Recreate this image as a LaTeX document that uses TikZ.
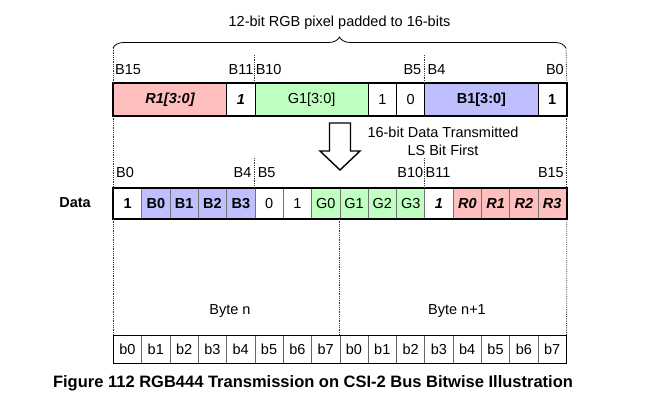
\documentclass[tikz,border=0pt]{standalone}
\usepackage{fontspec}
\setmainfont{Liberation Sans}
\usetikzlibrary{decorations.pathreplacing}
\definecolor{redf}{HTML}{FFBFBF}
\definecolor{greenf}{HTML}{BFFFBF}
\definecolor{bluef}{HTML}{BFBFFF}
\def\w{28.3125}
\tikzset{
  base/.style={font=\fontsize{14.5}{16}\selectfont},
  cellA/.style={base, draw=black, line width=0.8pt, minimum height=32pt, inner sep=0pt, anchor=north west},
  cellB/.style={base, draw=black!55, line width=0.8pt, minimum height=30pt, minimum width=\w pt, inner sep=0pt, anchor=north west},
  cellC/.style={base, draw=black!60, line width=0.6pt, minimum height=28pt, minimum width=\w pt, inner sep=0pt, anchor=north west},
  cWB/.style={fill=white, font=\fontsize{14.5}{16}\selectfont\bfseries},
  cBB/.style={fill=bluef, font=\fontsize{14.5}{16}\selectfont\bfseries},
  cWR/.style={fill=white},
  cGR/.style={fill=greenf},
  cWI/.style={fill=white, font=\fontsize{14.5}{16}\selectfont\bfseries\itshape},
  cRI/.style={fill=redf, font=\fontsize{14.5}{16}\selectfont\bfseries\itshape},
  outer/.style={draw=black, line width=1.8pt},
  guide/.style={draw=black!80, line width=0.8pt, densely dotted},
  lbl/.style={base, inner sep=0pt},
}
\begin{document}
\begin{tikzpicture}[x=1pt, y=-1pt]
\useasboundingbox (0,0) rectangle (654,402);

% title and brace
\node[lbl] (title) at (339.5,23) {12-bit RGB pixel padded to 16-bits};
\coordinate (brL) at (113,48);
\coordinate (brR) at (566,48);
\draw[line width=0.8pt, decoration={brace, amplitude=11pt}, decorate] (brL) -- (brR);

% top row
\node[cellA, cRI, minimum width=4*\w pt] (r1) at (113,83) {R1[3:0]};
\node[cellA, cWI, minimum width=\w pt] (p1) at ({113+4*\w},83) {1};
\node[cellA, cGR, minimum width=4*\w pt] (g1) at ({113+5*\w},83) {G1[3:0]};
\node[cellA, cWR, minimum width=\w pt] (p2) at ({113+9*\w},83) {1};
\node[cellA, cWR, minimum width=\w pt] (p3) at ({113+10*\w},83) {0};
\node[cellA, cBB, minimum width=4*\w pt] (b1) at ({113+11*\w},83) {B1[3:0]};
\node[cellA, cWB, minimum width=\w pt] (p4) at ({113+15*\w},83) {1};
\draw[outer] (r1.north west) rectangle (p4.south east);

% top labels
\node[lbl, anchor=west] (t15) at (115,70) {B15};
\node[lbl, anchor=east] (t11) at ({113+5*\w-1},70) {B11};
\node[lbl, anchor=west] (t10) at ({113+5*\w+1},70) {B10};
\node[lbl, anchor=east] (t5) at ({113+11*\w-3},70) {B5};
\node[lbl, anchor=west] (t4) at ({113+11*\w+3},70) {B4};
\node[lbl, anchor=east] (t0) at (564,70) {B0};

% arrow
\coordinate (aTip) at (340,170);
\draw[line width=1.4pt, fill=white] (329.5,123) -- (350.5,123) -- (350.5,151) -- (360,151) -- (aTip) -- (320,151) -- (329.5,151) -- cycle;
\node[lbl] (note1) at (443,132) {16-bit Data Transmitted};
\node[lbl] (note2) at (443,150) {LS Bit First};

% data row
\node[lbl, font=\fontsize{14.5}{16}\selectfont\bfseries] (data) at (75,203) {Data};
\foreach \i/\t/\st in {0/1/cWB,1/B0/cBB,2/B1/cBB,3/B2/cBB,4/B3/cBB,5/0/cWR,6/1/cWR,7/G0/cGR,8/G1/cGR,9/G2/cGR,10/G3/cGR,11/1/cWI,12/R0/cRI,13/R1/cRI,14/R2/cRI,15/R3/cRI}
  \node[cellB, \st] (d\i) at ({113+\i*\w},188) {\t};
\draw[outer] (d0.north west) rectangle (d15.south east);

% data labels
\node[lbl, anchor=west] (s0) at (116,173) {B0};
\node[lbl, anchor=east] (s4) at ({113+5*\w-3},173) {B4};
\node[lbl, anchor=west] (s5) at ({113+5*\w+3},173) {B5};
\node[lbl, anchor=east] (s10) at ({113+11*\w-1},173) {B10};
\node[lbl, anchor=west] (s11) at ({113+11*\w+1},173) {B11};
\node[lbl, anchor=east] (s15) at (564,173) {B15};

% byte row
\foreach \i in {0,...,7}
  \node[cellC, cWR] (e\i) at ({113+\i*\w},335) {b\i};
\foreach \i in {0,...,7}
  \node[cellC, cWR] (f\i) at ({113+(\i+8)*\w},335) {b\i};
\draw[draw=black, line width=1pt] (e0.north west) rectangle (f7.south east);
\node[lbl] (byten) at (230,311) {Byte n};
\node[lbl] (byten1) at (457,311) {Byte n+1};

% guide lines
\draw[guide] (brL) -- (r1.north west);
\draw[guide] (r1.south west) -- (d0.north west);
\draw[guide] (d0.south west) -- (e0.north west);
\draw[guide] (brR) -- (p4.north east);
\draw[guide] (p4.south east) -- (d15.north east);
\draw[guide] (d15.south east) -- (f7.north east);
\draw[guide] ({113+5*\w},55) -- (g1.north west);
\draw[guide] ({113+11*\w},55) -- (b1.north west);
\draw[guide] ({113+5*\w},158) -- (d5.north west);
\draw[guide] ({113+11*\w},158) -- (d11.north west);
\draw[guide] (d8.south west) -- (f0.north west);

% caption
\node[lbl, font=\fontsize{16.5}{18}\selectfont\bfseries] (cap) at (313,383) {Figure 112 RGB444 Transmission on CSI-2 Bus Bitwise Illustration};
\end{tikzpicture}
\end{document}
